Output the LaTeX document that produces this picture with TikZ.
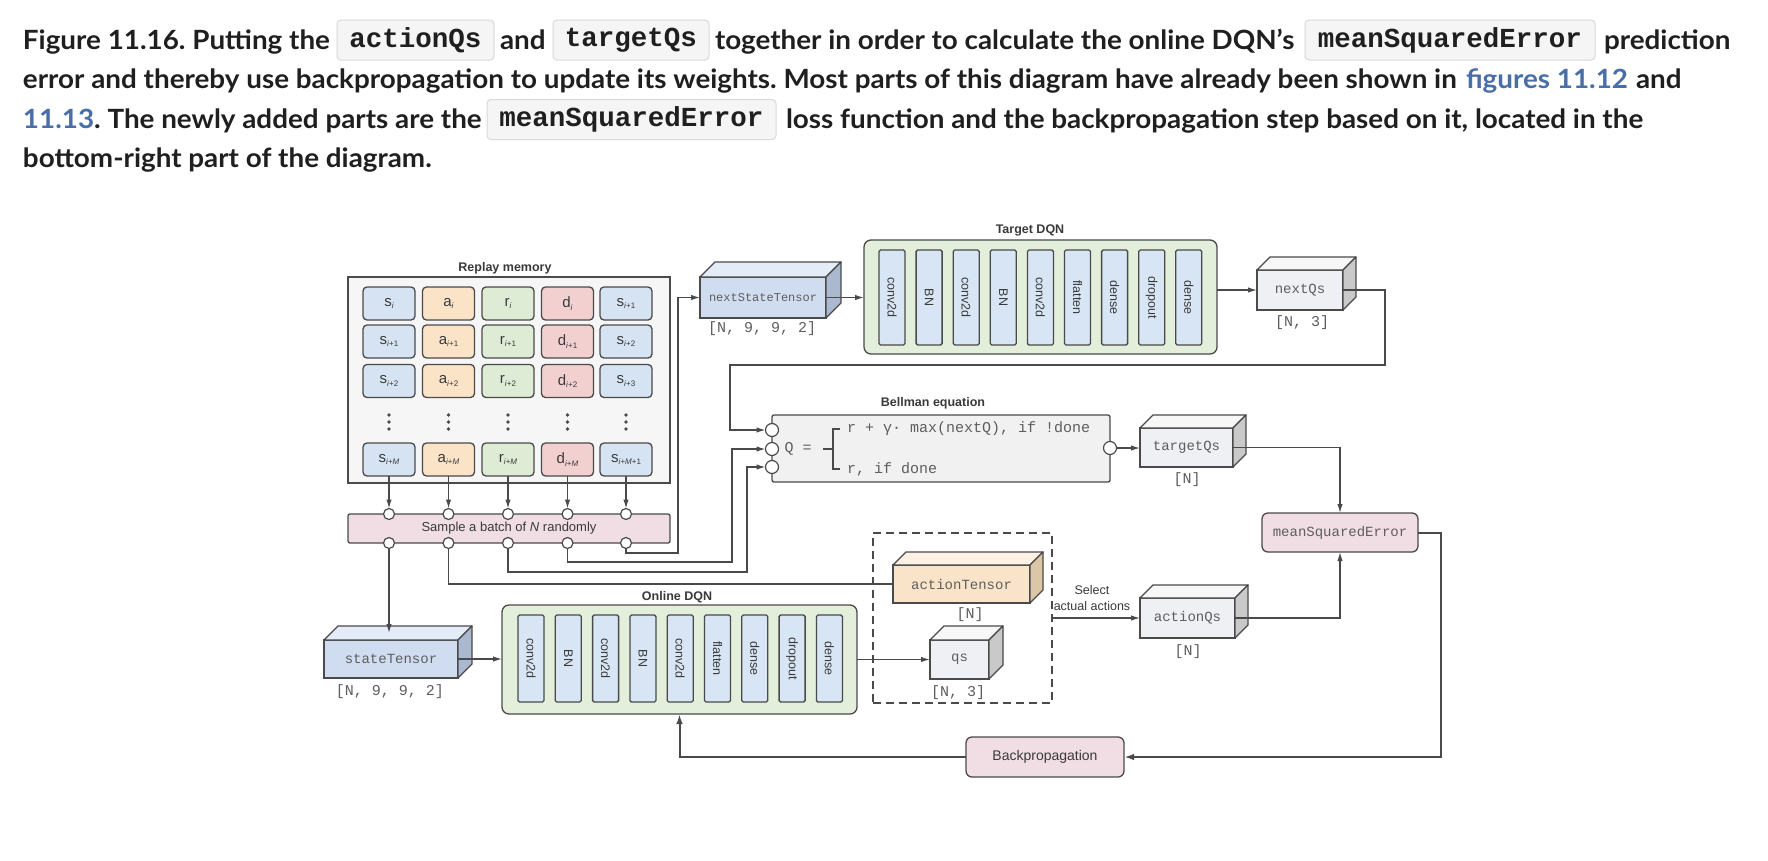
\documentclass[tikz,border=0pt]{standalone}
\usepackage{fontspec}
\usetikzlibrary{arrows.meta}
\newfontfamily\capfont{Lato}[FakeStretch=1.05]
\newfontfamily\capmono{Liberation Mono}
\newfontfamily\dsans{Liberation Sans}
\newfontfamily\dmono{Liberation Mono}
\definecolor{captxt}{HTML}{1F1F1F}
\definecolor{linkc}{HTML}{4A6EA8}
\definecolor{chipfill}{HTML}{F5F5F5}
\definecolor{chipdraw}{HTML}{D9D9D9}
\definecolor{linec}{HTML}{4A4A4A}
\definecolor{txtc}{HTML}{3A3A3A}
\definecolor{monoc}{HTML}{5E5E5E}
\definecolor{cblue}{HTML}{D5E3F3}
\definecolor{corng}{HTML}{FBE3C8}
\definecolor{cgreen}{HTML}{DEECD5}
\definecolor{cred}{HTML}{F3D0D0}
\definecolor{dqnc}{HTML}{E4EFDB}
\definecolor{layerc}{HTML}{D7E5F5}
\definecolor{pinkc}{HTML}{F1DDE4}
\definecolor{bellc}{HTML}{F1F1F1}
\definecolor{replayc}{HTML}{F6F6F6}
\definecolor{blueF}{HTML}{D0DDF0}
\definecolor{blueT}{HTML}{E4ECF7}
\definecolor{blueS}{HTML}{AAB8D0}
\definecolor{grayF}{HTML}{EEF0F3}
\definecolor{grayT}{HTML}{F7F7F7}
\definecolor{grayS}{HTML}{C9C9C9}
\definecolor{orngF}{HTML}{FAE4C9}
\definecolor{orngT}{HTML}{FDF1E3}
\definecolor{orngS}{HTML}{DCC6A8}
\newcommand{\cs}[2]{#1{\fontsize{8}{8}\selectfont\raisebox{-2.5pt}{#2}}}
\newcommand{\cuboid}[9]{%
 \node[cubefront, fill=#7F, minimum width=#4pt, minimum height=#5pt, #9] (#1) at (#2,#3) {#8};
 \draw[cubeedge, fill=#7T] (#1.north west) -- ++(#6pt,#6pt) -- ([shift={(#6pt,#6pt)}]#1.north east) -- (#1.north east) -- cycle;
 \draw[cubeedge, fill=#7S] (#1.north east) -- ([shift={(#6pt,#6pt)}]#1.north east) -- ([shift={(#6pt,#6pt)}]#1.south east) -- (#1.south east) -- cycle;
}
\tikzset{
 every node/.style={inner sep=0pt, outer sep=0pt},
 captext/.style={anchor=base west, font=\frenchspacing\capfont\bfseries\fontsize{26.5}{26.5}\selectfont, text=captxt},
 chip/.style={draw=chipdraw, fill=chipfill, rounded corners=4pt, line width=1pt, minimum height=40pt, font=\capmono\bfseries\fontsize{27.5}{27.5}\selectfont, text=captxt},
 cell/.style={draw=linec, line width=1.3pt, rounded corners=4pt, minimum width=52pt, minimum height=33pt, font=\dsans\fontsize{15}{15}\selectfont, text=txtc},
 boxtitle/.style={font=\dsans\bfseries\fontsize{12.5}{12.5}\selectfont, text=txtc},
 plainbox/.style={draw=linec, line width=1.3pt},
 port/.style={circle, draw=linec, fill=white, line width=1.2pt, minimum size=11pt},
 bport/.style={port, minimum size=13pt},
 arr/.style={draw=linec, line width=1.3pt, -{Latex[length=9pt,width=5.5pt]}},
 conn/.style={draw=linec, line width=1.3pt},
 arrthick/.style={draw=linec, line width=2pt, -{Latex[length=10pt,width=6.5pt]}},
 cubefront/.style={draw=linec, line width=1.3pt},
 cubeedge/.style={draw=linec, line width=1.3pt, line join=round},
 monolab/.style={font=\dmono\fontsize{14}{14}\selectfont, text=monoc},
 monosmall/.style={font=\dmono\fontsize{12}{12}\selectfont, text=monoc},
 dimlab/.style={font=\dmono\fontsize{15}{15}\selectfont, text=monoc},
 bmono/.style={font=\dmono\fontsize{15}{15}\selectfont, text=monoc},
 dqn/.style={plainbox, fill=dqnc, rounded corners=7pt},
 layer/.style={rotate=-90, draw=linec, line width=1.3pt, fill=layerc, rounded corners=1.5pt, minimum height=26pt, font=\dsans\fontsize{12.5}{12.5}\selectfont, text=txtc},
 pinkbox/.style={plainbox, fill=pinkc, rounded corners=6pt},
 dashbox/.style={draw=linec, line width=1.5pt, dash pattern=on 8pt off 5pt},
}
\begin{document}
\frenchspacing
\begin{tikzpicture}[x=1pt,y=-1pt]
\useasboundingbox (0,0) rectangle (1768,860);
\fill[white] (0,0) rectangle (1768,860);

% ---------- caption ----------
\node[captext] (l1a) at (23,49.5) {Figure 11.16. Putting the};
\node[chip, minimum width=157pt] (ch1) at (415.5,40) {actionQs};
\node[captext] (l1b) at (500,49.5) {and};
\node[chip, minimum width=156pt] (ch2) at (631,40) {targetQs};
\node[captext] (l1c) at (715,49.5) {together in order to calculate the online DQN’s};
\node[chip, minimum width=290pt] (ch3) at (1450,40) {meanSquaredError};
\node[captext] (l1d) at (1604,49.5) {prediction};
\node[captext] (l2a) at (23,88.8) {error and thereby use backpropagation to update its weights. Most parts of this diagram have already been shown in};
\node[captext, text=linkc] (l2b) at (1466,88.8) {figures 11.12};
\node[captext] (l2c) at (1636,88.8) {and};
\node[captext] (l3a) at (23,128) {\textcolor{linkc}{11.13}. The newly added parts are the};
\node[chip, minimum width=289pt] (ch4) at (631.5,119.5) {meanSquaredError};
\node[captext] (l3b) at (786,128) {loss function and the backpropagation step based on it, located in the};
\node[captext] (l4a) at (23,167) {bottom-right part of the diagram.};

% ---------- replay memory ----------
\node[plainbox, fill=replayc, minimum width=322pt, minimum height=206pt] (rm) at (509,380) {};
\node[boxtitle] (rmlab) at (505,268) {Replay memory};
\node[cell, fill=cblue] (a1) at (389,303.5) {\cs{s}{\textit{i}}};
\node[cell, fill=corng] (a2) at (448.5,303.5) {\cs{a}{\textit{i}}};
\node[cell, fill=cgreen] (a3) at (508,303.5) {\cs{r}{\textit{i}}};
\node[cell, fill=cred] (a4) at (567.5,303.5) {\cs{d}{\textit{i}}};
\node[cell, fill=cblue] (a5) at (626,303.5) {\cs{s}{\textit{i}+1}};
\node[cell, fill=cblue] (b1) at (389,341.5) {\cs{s}{\textit{i}+1}};
\node[cell, fill=corng] (b2) at (448.5,341.5) {\cs{a}{\textit{i}+1}};
\node[cell, fill=cgreen] (b3) at (508,341.5) {\cs{r}{\textit{i}+1}};
\node[cell, fill=cred] (b4) at (567.5,341.5) {\cs{d}{\textit{i}+1}};
\node[cell, fill=cblue] (b5) at (626,341.5) {\cs{s}{\textit{i}+2}};
\node[cell, fill=cblue] (c1) at (389,381) {\cs{s}{\textit{i}+2}};
\node[cell, fill=corng] (c2) at (448.5,381) {\cs{a}{\textit{i}+2}};
\node[cell, fill=cgreen] (c3) at (508,381) {\cs{r}{\textit{i}+2}};
\node[cell, fill=cred] (c4) at (567.5,381) {\cs{d}{\textit{i}+2}};
\node[cell, fill=cblue] (c5) at (626,381) {\cs{s}{\textit{i}+3}};
\node[cell, fill=cblue] (m1) at (389,459.5) {\cs{s}{\textit{i}+\textit{M}}};
\node[cell, fill=corng] (m2) at (448.5,459.5) {\cs{a}{\textit{i}+\textit{M}}};
\node[cell, fill=cgreen] (m3) at (508,459.5) {\cs{r}{\textit{i}+\textit{M}}};
\node[cell, fill=cred] (m4) at (567.5,459.5) {\cs{d}{\textit{i}+\textit{M}}};
\node[cell, fill=cblue] (m5) at (626,459.5) {\cs{s}{\textit{i}+\textit{M}+1}};
\foreach \x in {389,448.5,508,567.5,626} {
  \fill[linec] (\x,415) circle (1.8pt);
  \fill[linec] (\x,422) circle (1.8pt);
  \fill[linec] (\x,429) circle (1.8pt);
}

% ---------- sample batch ----------
\node[plainbox, fill=pinkc, rounded corners=2pt, minimum width=322pt, minimum height=29pt, font=\dsans\fontsize{13}{13}\selectfont, text=txtc] (sb) at (509,528.5) {Sample a batch of \textit{N} randomly};
\node[port] (bt1) at (389,514) {};
\node[port] (bt2) at (448.5,514) {};
\node[port] (bt3) at (508,514) {};
\node[port] (bt4) at (567.5,514) {};
\node[port] (bt5) at (626,514) {};
\node[port] (bb1) at (389,543) {};
\node[port] (bb2) at (448.5,543) {};
\node[port] (bb3) at (508,543) {};
\node[port] (bb4) at (567.5,543) {};
\node[port] (bb5) at (626,543) {};
\draw[arr] (m1) -- (bt1);
\draw[arr] (m2) -- (bt2);
\draw[arr] (m3) -- (bt3);
\draw[arr] (m4) -- (bt4);
\draw[arr] (m5) -- (bt5);

% ---------- target DQN ----------
\cuboid{nst}{763}{297.5}{126}{41}{15}{blue}{nextStateTensor}{monosmall}
\node[dimlab] (nstd) at (762,329) {[N, 9, 9, 2]};
\node[dqn, minimum width=353pt, minimum height=114pt] (tg) at (1040.5,297) {};
\node[boxtitle] (tglab) at (1030,230) {Target DQN};
\foreach \lab [count=\k from 0] in {conv2d,BN,conv2d,BN,conv2d,flatten,dense,dropout,dense}
  \node[layer, minimum width=95pt] (tl\k) at ({892+37.1*\k},297.5) {\lab};
\cuboid{nq}{1300}{290}{86}{40}{13}{gray}{nextQs}{monolab}
\node[dimlab] (nqd) at (1302,323) {[N, 3]};

% ---------- Bellman ----------
\node[plainbox, fill=bellc, rounded corners=2pt, minimum width=338pt, minimum height=67pt] (bm) at (941,448.5) {};
\node[boxtitle] (bmlab) at (933,403) {Bellman equation};
\node[bport] (bl1) at (772,430) {};
\node[bport] (bl2) at (772,449) {};
\node[bport] (bl3) at (772,467) {};
\node[bport] (br) at (1110,448) {};
\node[bmono] (qeq) at (798,449) {Q =};
\draw[conn, line width=1.2pt] (840,429) -- (833,429) -- (833,469) -- (840,469) (833,449) -- (823,449);
\node[bmono, anchor=west] (bq1) at (847,429) {r + γ· max(nextQ), if !done};
\node[bmono, anchor=west] (bq2) at (847,469) {r, if done};
\cuboid{tq}{1186.5}{447.5}{93}{39}{13}{gray}{targetQs}{monolab}
\node[dimlab] (tqd) at (1187,480) {[N]};
\node[pinkbox, minimum width=156pt, minimum height=39pt, monolab] (mse) at (1340,532.5) {meanSquaredError};

% ---------- online side ----------
\node[dashbox, minimum width=179pt, minimum height=170pt] (db) at (962.5,618) {};
\cuboid{at}{961.5}{584}{137}{38}{13}{orng}{actionTensor}{monolab}
\node[dimlab] (atd) at (970,615) {[N]};
\cuboid{qs}{959.5}{659.5}{59}{39}{14}{gray}{qs}{monolab}
\node[dimlab] (qsd) at (958,693) {[N, 3]};
\node[font=\dsans\fontsize{12.5}{16}\selectfont, text=txtc, align=center] (sel) at (1092,598) {Select\\actual actions};
\cuboid{aq}{1187.5}{618}{95}{40}{13}{gray}{actionQs}{monolab}
\node[dimlab] (aqd) at (1188,652) {[N]};
\cuboid{st}{391}{659}{134}{38}{14}{blue}{stateTensor}{monolab}
\node[dimlab] (std) at (390,692) {[N, 9, 9, 2]};
\node[dqn, minimum width=355pt, minimum height=109pt] (on) at (679.5,659.5) {};
\node[boxtitle] (onlab) at (677,597) {Online DQN};
\foreach \lab [count=\k from 0] in {conv2d,BN,conv2d,BN,conv2d,flatten,dense,dropout,dense}
  \node[layer, minimum width=87pt] (ol\k) at ({531+37.3*\k},658.5) {\lab};
\node[pinkbox, minimum width=158pt, minimum height=40pt, font=\dsans\fontsize{14}{14}\selectfont, text=txtc] (bp) at (1045,757) {Backpropagation};

% ---------- connectors ----------
\coordinate (sttop) at ([yshift=7pt]st.north);
\draw[arr] (bb1) -- (bb1 |- sttop);
\draw[conn] (bb2) |- (at.west);
\coordinate (r3) at (747,572);
\coordinate (r4) at (732,562);
\coordinate (r5) at (678,553);
\draw[arr] (bb3) |- (r3) |- (bl3);
\draw[arr] (bb4) |- (r4) |- (bl2);
\draw[arr] (bb5) |- (r5) |- (nst.west);
\draw[arr] (nst.east) -- (nst.east -| tg.west);
\draw[arr] (tg.east |- nq.west) -- (nq.west);
\coordinate (q1) at (1385,365);
\coordinate (q2) at (730,365);
\draw[arr] (nq.east) -| (q1) -- (q2) |- (bl1);
\draw[arr] (br) -- (br -| tq.west);
\draw[arr] (tq.east) -| (mse.north);
\draw[arr] (db.east) -- (aq.west);
\draw[arr] (aq.east) -| (mse.south);
\coordinate (mc) at (1441,757);
\draw[arrthick] (mse.east) -| (mc) -- (bp.east);
\draw[arrthick] (bp.west) -| (on.south);
\draw[arr] (st.east) -- (st.east -| on.west);
\draw[arr] (on.east |- qs.west) -- (qs.west);
\end{tikzpicture}
\end{document}
